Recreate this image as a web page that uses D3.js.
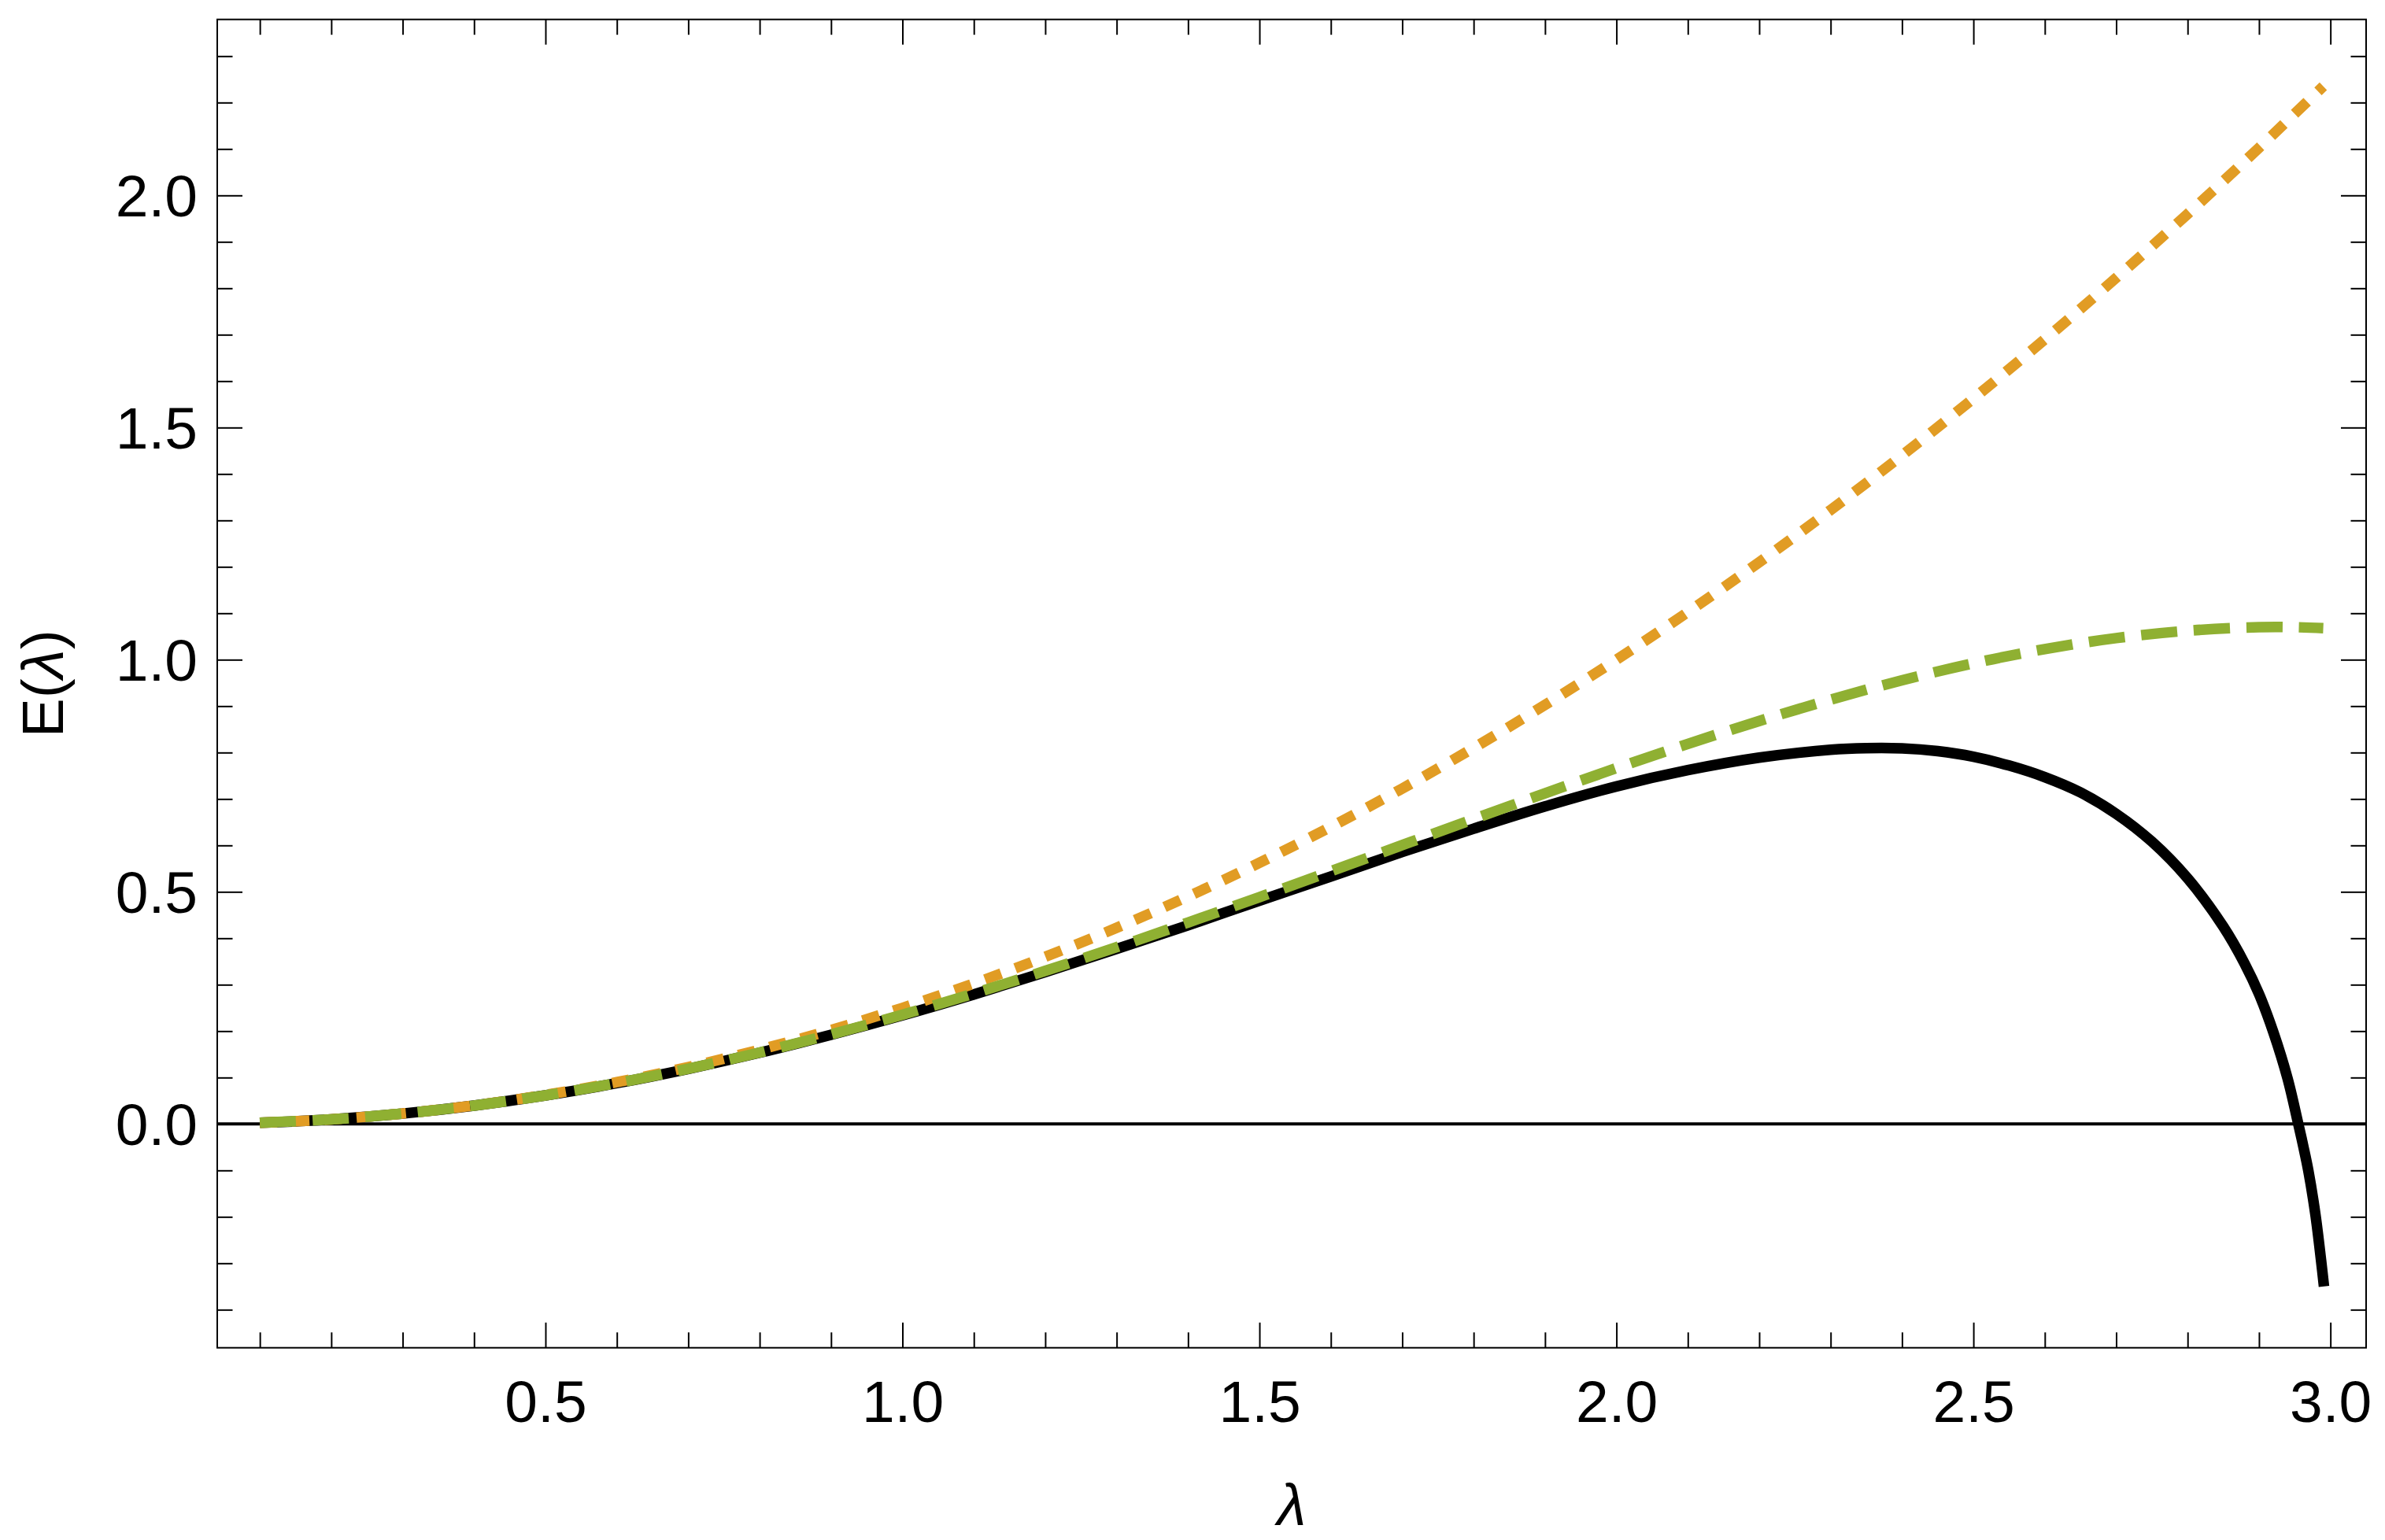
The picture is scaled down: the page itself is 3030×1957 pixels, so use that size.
<!DOCTYPE html>
<html>
<head>
<meta charset="utf-8">
<script src="https://cdn.jsdelivr.net/npm/d3@7"></script>
<style>
  html, body { margin: 0; padding: 0; background: #fff; }
  svg { display: block; }
  text { font-family: "Liberation Sans", Arial, Helvetica, sans-serif; }
</style>
</head>
<body>
<script>
// ---- data ----
const lambdaGrid = [0.1,0.2,0.3,0.4,0.5,0.6,0.7,0.8,0.9,1.0,1.1,1.2,1.3,1.4,1.5,1.6,1.7,1.8,1.9,2.0,2.1,2.2,2.3,2.4,2.5,2.6,2.7,2.8,2.9,2.95,2.99];
const eOrange = [0.0025,0.0100,0.0225,0.0400,0.0625,0.0900,0.1225,0.1600,0.2025,0.2500,0.3025,0.3600,0.4225,0.4900,0.5625,0.6400,0.7225,0.8100,0.9025,1.0000,1.1025,1.2100,1.3225,1.4400,1.5625,1.6900,1.8225,1.9600,2.1025,2.1760,2.2350];
const eGreen = [0.0025,0.0100,0.0224,0.0396,0.0616,0.0881,0.1190,0.1540,0.1929,0.2354,0.2811,0.3297,0.3808,0.4339,0.4886,0.5443,0.6006,0.6567,0.7122,0.7664,0.8186,0.8680,0.9139,0.9556,0.9922,1.0228,1.0465,1.0623,1.0700,1.0700,1.0680];
const lambdaBlack = [0.1,0.2,0.3,0.4,0.5,0.6,0.7,0.8,0.9,1.0,1.1,1.2,1.3,1.4,1.5,1.6,1.7,1.8,1.9,2.0,2.1,2.2,2.3,2.35,2.4,2.45,2.5,2.55,2.6,2.65,2.7,2.75,2.8,2.85,2.88,2.9,2.92,2.94,2.955,2.962,2.969,2.979,2.987,2.991];
const eBlack = [0.0025,0.0100,0.0224,0.0396,0.0615,0.0879,0.1187,0.1535,0.1922,0.234,0.279,0.327,0.377,0.428,0.481,0.533,0.586,0.636,0.684,0.727,0.762,0.789,0.806,0.8095,0.809,0.803,0.791,0.772,0.747,0.714,0.668,0.608,0.529,0.425,0.345,0.280,0.198,0.098,0.0,-0.048,-0.100,-0.195,-0.295,-0.350];

const xMajorTicks = [0.5,1.0,1.5,2.0,2.5,3.0];
const xMinorTicks = [0.1,0.2,0.3,0.4,0.6,0.7,0.8,0.9,1.1,1.2,1.3,1.4,1.6,1.7,1.8,1.9,2.1,2.2,2.3,2.4,2.6,2.7,2.8,2.9];
const yMajorTicks = [0.0,0.5,1.0,1.5,2.0];
const yMinorTicks = [-0.4,-0.3,-0.2,-0.1,0.1,0.2,0.3,0.4,0.6,0.7,0.8,0.9,1.1,1.2,1.3,1.4,1.6,1.7,1.8,1.9,2.1,2.2,2.3];

const xDomain = [0.0403, 3.050];
const yDomain = [-0.482, 2.379];

// ---- layout ----
const W = 3030, H = 1957;
const pLeft = 276, pRight = 3006, pTop = 24.7, pBottom = 1712.7;

const svg = d3.select("body").append("svg")
  .attr("width", W).attr("height", H)
  .attr("viewBox", `0 0 ${W} ${H}`);
svg.append("rect").attr("width", W).attr("height", H).attr("fill", "#fff");

const x = d3.scaleLinear().domain(xDomain).range([pLeft, pRight]);
const y = d3.scaleLinear().domain(yDomain).range([pBottom, pTop]);

const fmt = d3.format(".1f");
const MAJ = 32, MIN = 19.5, FS = 75;

function styleAxis(g) {
  g.select(".domain").remove();
  g.selectAll(".tick line").attr("stroke", "#000").attr("stroke-width", 2);
}

// bottom
svg.append("g").attr("transform", `translate(0,${pBottom})`)
  .call(d3.axisBottom(x).tickValues(xMinorTicks).tickSize(-MIN).tickFormat(""))
  .call(styleAxis);
const gb = svg.append("g").attr("transform", `translate(0,${pBottom})`)
  .call(d3.axisBottom(x).tickValues(xMajorTicks).tickSize(-MAJ).tickFormat(fmt))
  .call(styleAxis);
gb.selectAll(".tick text").attr("y", 94).attr("dy", null)
  .attr("font-size", FS).attr("fill", "#000")
  .attr("font-family", '"Liberation Sans", Arial, sans-serif');

// top
svg.append("g").attr("transform", `translate(0,${pTop})`)
  .call(d3.axisTop(x).tickValues(xMinorTicks).tickSize(-MIN).tickFormat(""))
  .call(styleAxis);
svg.append("g").attr("transform", `translate(0,${pTop})`)
  .call(d3.axisTop(x).tickValues(xMajorTicks).tickSize(-MAJ).tickFormat(""))
  .call(styleAxis);

// left
svg.append("g").attr("transform", `translate(${pLeft},0)`)
  .call(d3.axisLeft(y).tickValues(yMinorTicks).tickSize(-MIN).tickFormat(""))
  .call(styleAxis);
const gl = svg.append("g").attr("transform", `translate(${pLeft},0)`)
  .call(d3.axisLeft(y).tickValues(yMajorTicks).tickSize(-MAJ).tickFormat(fmt))
  .call(styleAxis);
gl.selectAll(".tick text").attr("x", -25).attr("dy", "0.355em")
  .attr("font-size", FS).attr("fill", "#000")
  .attr("font-family", '"Liberation Sans", Arial, sans-serif');

// right
svg.append("g").attr("transform", `translate(${pRight},0)`)
  .call(d3.axisRight(y).tickValues(yMinorTicks).tickSize(-MIN).tickFormat(""))
  .call(styleAxis);
svg.append("g").attr("transform", `translate(${pRight},0)`)
  .call(d3.axisRight(y).tickValues(yMajorTicks).tickSize(-MAJ).tickFormat(""))
  .call(styleAxis);

// zero axis line
svg.append("line")
  .attr("x1", pLeft).attr("x2", pRight)
  .attr("y1", y(0)).attr("y2", y(0))
  .attr("stroke", "#000").attr("stroke-width", 4);

// curves
svg.append("clipPath").attr("id", "plotclip")
  .append("rect").attr("x", pLeft).attr("y", pTop)
  .attr("width", pRight - pLeft).attr("height", pBottom - pTop);

const line = d3.line().x(d => x(d[0])).y(d => y(d[1])).curve(d3.curveCatmullRom.alpha(0.5));
const plot = svg.append("g").attr("clip-path", "url(#plotclip)");

const series = [
  { lam: lambdaBlack, val: eBlack, color: "#000000", dash: null },
  { lam: lambdaGrid, val: eOrange, color: "#E19C24", dash: "22,19" },
  { lam: lambdaGrid, val: eGreen, color: "#8FB032", dash: "46,21" }
];
series.forEach(s => {
  const pts = s.lam.map((l, i) => [l, s.val[i]]);
  const p = plot.append("path").datum(pts)
    .attr("d", line)
    .attr("fill", "none")
    .attr("stroke", s.color)
    .attr("stroke-width", 13.5)
    .attr("stroke-linecap", "butt")
    .attr("stroke-linejoin", "round");
  if (s.dash) p.attr("stroke-dasharray", s.dash);
});

// frame
svg.append("rect")
  .attr("x", pLeft).attr("y", pTop)
  .attr("width", pRight - pLeft).attr("height", pBottom - pTop)
  .attr("fill", "none").attr("stroke", "#000").attr("stroke-width", 2);

// axis titles
svg.append("text")
  .attr("x", (pLeft + pRight) / 2).attr("y", 1938)
  .attr("text-anchor", "middle")
  .attr("font-size", FS).attr("font-style", "italic")
  .text("λ");

const yt = svg.append("text")
  .attr("transform", `translate(80,${(pTop + pBottom) / 2}) rotate(-90)`)
  .attr("text-anchor", "middle")
  .attr("font-size", FS);
yt.append("tspan").text("E(");
yt.append("tspan").attr("font-style", "italic").text("λ");
yt.append("tspan").text(")");
</script>
</body>
</html>
